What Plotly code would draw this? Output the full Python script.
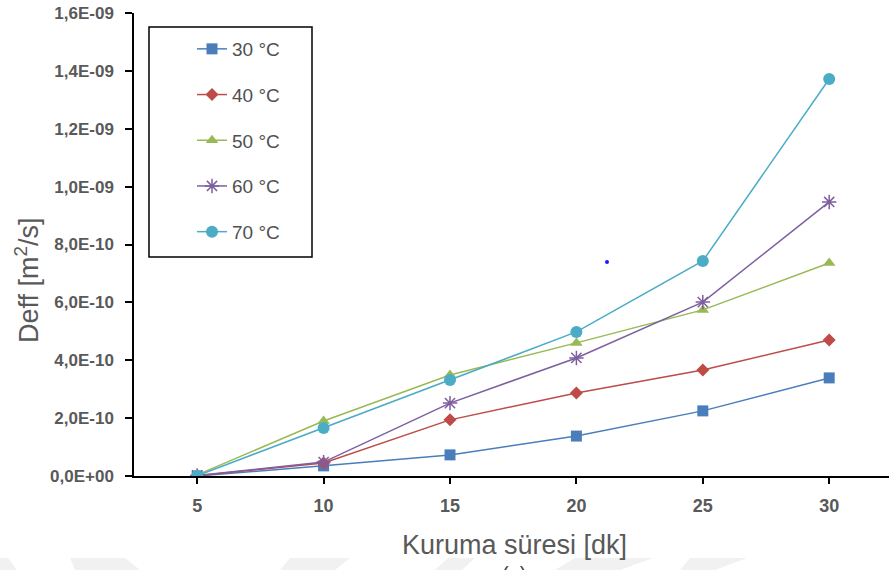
import plotly.graph_objects as go

x_vals = [5, 10, 15, 20, 25, 30]
series_names = ["30 °C", "40 °C", "50 °C", "60 °C", "70 °C"]
d30 = [0.0, 3.5e-11, 7.3e-11, 1.38e-10, 2.25e-10, 3.39e-10]
d40 = [1e-12, 4.5e-11, 1.94e-10, 2.87e-10, 3.66e-10, 4.70e-10]
d50 = [4e-12, 1.90e-10, 3.49e-10, 4.60e-10, 5.74e-10, 7.36e-10]
d60 = [2e-12, 4.8e-11, 2.52e-10, 4.08e-10, 6.01e-10, 9.47e-10]
d70 = [1e-12, 1.66e-10, 3.32e-10, 4.98e-10, 7.43e-10, 1.372e-09]
y_tickvals = [0, 2e-10, 4e-10, 6e-10, 8e-10, 1e-9, 1.2e-9, 1.4e-9, 1.6e-9]
y_ticktext = ["0,0E+00", "2,0E-10", "4,0E-10", "6,0E-10", "8,0E-10",
              "1,0E-09", "1,2E-09", "1,4E-09", "1,6E-09"]

colors = ["#4A7EBB", "#BE4B48", "#98B954", "#7D5FA0", "#4BACC6"]
symbols = ["square", "diamond", "triangle-up", "asterisk-open", "circle"]
sizes = [11, 10, 11, 12, 12]
data = [d30, d40, d50, d60, d70]

W, H = 889, 570
L, T, B, R = 134, 13, 94, 0
pw = W - L - R
ph = H - T - B

fig = go.Figure()
for i, (name, ys) in enumerate(zip(series_names, data)):
    mk = dict(symbol=symbols[i], size=sizes[i], color=colors[i])
    if symbols[i] == "asterisk-open":
        mk["line"] = dict(color=colors[i], width=1.5)
    fig.add_trace(go.Scatter(
        x=x_vals, y=ys, mode="lines+markers", name=name,
        legendgroup=name,
        line=dict(color=colors[i], width=1.5),
        marker=mk,
    ))

def px_x(px):
    return (px - L) / pw

def px_y(py):
    return (H - B - py) / ph

font_main = "Liberation Sans, Arial, sans-serif"

# faint watermark pieces at the bottom edge (pixel polygons)
wm_polys = [
    [(0, 558), (8, 558), (17, 570), (0, 570)],
    [(70, 558), (125, 558), (140, 570), (75, 570)],
    [(290, 558), (350, 558), (335, 570), (280, 570)],
    [(448, 558), (475, 558), (462, 570), (435, 570)],
    [(575, 558), (653, 558), (620, 570), (555, 570)],
    [(690, 558), (747, 558), (715, 570), (680, 570)],
]
shapes = []
for poly in wm_polys:
    path = "M " + " L ".join(f"{px_x(x):.5f},{px_y(y):.5f}" for x, y in poly) + " Z"
    shapes.append(dict(type="path", xref="paper", yref="paper", path=path,
                       fillcolor="#f1f1f1", line=dict(width=0), layer="below"))
# legend frame
shapes.append(dict(type="rect", xref="paper", yref="paper",
                   x0=px_x(149), x1=px_x(312), y0=px_y(257), y1=px_y(27),
                   line=dict(color="black", width=1.5), fillcolor="white", layer="above"))
# stray blue dot
shapes.append(dict(type="circle", xref="paper", yref="paper",
                   x0=px_x(605), x1=px_x(609), y0=px_y(264), y1=px_y(260),
                   fillcolor="#1a1aff", line=dict(width=0)))

fig.update_layout(
    width=W, height=H,
    margin=dict(l=L, r=R, t=T, b=B),
    paper_bgcolor="white", plot_bgcolor="white",
    showlegend=True,
    legend=dict(
        x=px_x(192), y=px_y(30), xanchor="left", yanchor="top",
        bgcolor="rgba(0,0,0,0)", borderwidth=0,
        font=dict(family=font_main, size=19, color="#505050"),
        tracegroupgap=18,
    ),
    xaxis=dict(
        range=[2.5, 2.5 + pw / 25.28],
        tickvals=x_vals, ticktext=[f"<b>{v}</b>" for v in x_vals],
        showline=True, linecolor="black", linewidth=1.5,
        ticks="outside", ticklen=6, tickcolor="black", tickwidth=1.5,
        showgrid=False, zeroline=False,
        tickfont=dict(family=font_main, size=18, color="#595959"),
        ticklabelstandoff=7,
    ),
    yaxis=dict(
        range=[0, 1.6e-9],
        tickvals=y_tickvals, ticktext=[f"<b>{t}</b>" for t in y_ticktext],
        showline=True, linecolor="black", linewidth=1.5,
        ticks="outside", ticklen=7, tickcolor="black", tickwidth=1.5,
        showgrid=False, zeroline=False,
        tickfont=dict(family="Liberation Sans Narrow, Arial Narrow, sans-serif",
                      size=17, color="#595959"),
        ticklabelstandoff=8,
    ),
    annotations=[
        dict(text="Deff [m<sup>2</sup>/s]", xref="paper", yref="paper",
             x=px_x(27), y=px_y(280), textangle=-90, showarrow=False,
             font=dict(family=font_main, size=27, color="#595959"),
             xanchor="center", yanchor="middle"),
        dict(text="Kuruma süresi [dk]", xref="paper", yref="paper",
             x=px_x(514), y=px_y(545), showarrow=False,
             font=dict(family=font_main, size=27, color="#595959"),
             xanchor="center", yanchor="middle"),
        dict(text="(a)", xref="paper", yref="paper",
             x=px_x(514), y=px_y(561), showarrow=False,
             font=dict(family=font_main, size=20, color="#404040"),
             xanchor="center", yanchor="top"),
    ],
    shapes=shapes,
)

fig.write_html("out.html")
